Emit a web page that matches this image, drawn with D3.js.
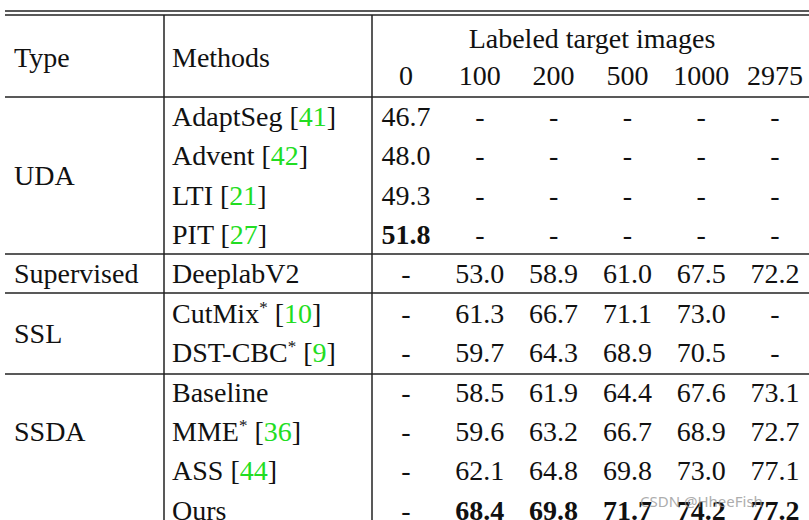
<!DOCTYPE html>
<html><head><meta charset="utf-8">
<script src="https://cdn.jsdelivr.net/npm/d3@7"></script>
<style>body{margin:0;background:#fff}</style>
</head><body><svg id="t" width="809" height="520"></svg>
<script>
    // table data
    const columns = ["0","100","200","500","1000","2975"];
    const groups = ["UDA","Supervised","SSL","SSDA"];
    const groupRowPos = [1.5,4,5.5,8];
    const methods = ["AdaptSeg","Advent","LTI","PIT","DeeplabV2","CutMix","DST-CBC","Baseline","MME","ASS","Ours"];
    const refs = ["41","42","21","27","","10","9","","36","44",""];
    const starred = [false,false,false,false,false,true,true,false,true,false,false];
    const values = [
        ["46.7","-","-","-","-","-"],
        ["48.0","-","-","-","-","-"],
        ["49.3","-","-","-","-","-"],
        ["51.8","-","-","-","-","-"],
        ["-","53.0","58.9","61.0","67.5","72.2"],
        ["-","61.3","66.7","71.1","73.0","-"],
        ["-","59.7","64.3","68.9","70.5","-"],
        ["-","58.5","61.9","64.4","67.6","73.1"],
        ["-","59.6","63.2","66.7","68.9","72.7"],
        ["-","62.1","64.8","69.8","73.0","77.1"],
        ["-","68.4","69.8","71.7","74.2","77.2"]
    ];
    const boldCells = [[3,0],[10,1],[10,2],[10,3],[10,4],[10,5]];

    let svg = d3.select("#t");
    let fs = 28;
    let serif = "'Liberation Serif', 'Times New Roman', 'DejaVu Serif', serif";

    let x = d3.scalePoint().domain(columns).range([406,775]);
    let y = d3.scaleLinear().domain([0,10]).range([116,510]);

    // rules
    let line = (x1,x2,yy) => svg.append("line").attr("x1",x1).attr("x2",x2).attr("y1",yy).attr("y2",yy)
        .attr("stroke","#222").attr("stroke-width",1.5);
    line(5,809,11); line(5,809,15); line(5,809,97);
    [254,293,374].forEach(v => line(5,809,v));
    [164,372].forEach(v => svg.append("line").attr("x1",v).attr("x2",v).attr("y1",15).attr("y2",520)
        .attr("stroke","#222").attr("stroke-width",1.5));

    let txt = (s,xx,yy,anchor) => svg.append("text").attr("x",xx).attr("y",yy).attr("dy","0.35em")
        .attr("font-family",serif).attr("fill","#111")
        .attr("font-size",fs).attr("text-anchor",anchor||"start").text(s);

    // header
    txt("Type",14,57); txt("Methods",172,57);
    txt("Labeled target images",592,38,"middle");
    columns.forEach(c => txt(c,x(c),75,"middle"));

    // groups
    groups.forEach((g,i) => txt(g,14,y(groupRowPos[i])));

    // methods with green refs
    methods.forEach((m,i) => {
        let t = txt(m,172,y(i));
        if (starred[i]) t.append("tspan").attr("font-size",17).attr("dy",-10).text("*");
        if (refs[i]) {
            t.append("tspan").attr("dy",starred[i]?10:null).text(" [");
            t.append("tspan").attr("fill","#22dd22").text(refs[i]);
            t.append("tspan").text("]");
        }
    });

    // values
    values.forEach((row,i) => row.forEach((v,j) => {
        let t = txt(v,x(columns[j]),y(i),"middle");
        if (boldCells.some(b => b[0]==i && b[1]==j)) t.attr("font-weight","bold");
    }));

    svg.append("text").attr("x",640).attr("y",507).attr("font-size",15)
        .attr("fill","#999").attr("font-family","Noto Sans").attr("opacity",0.8).text("CSDN @HheeFish");
</script></body></html>
